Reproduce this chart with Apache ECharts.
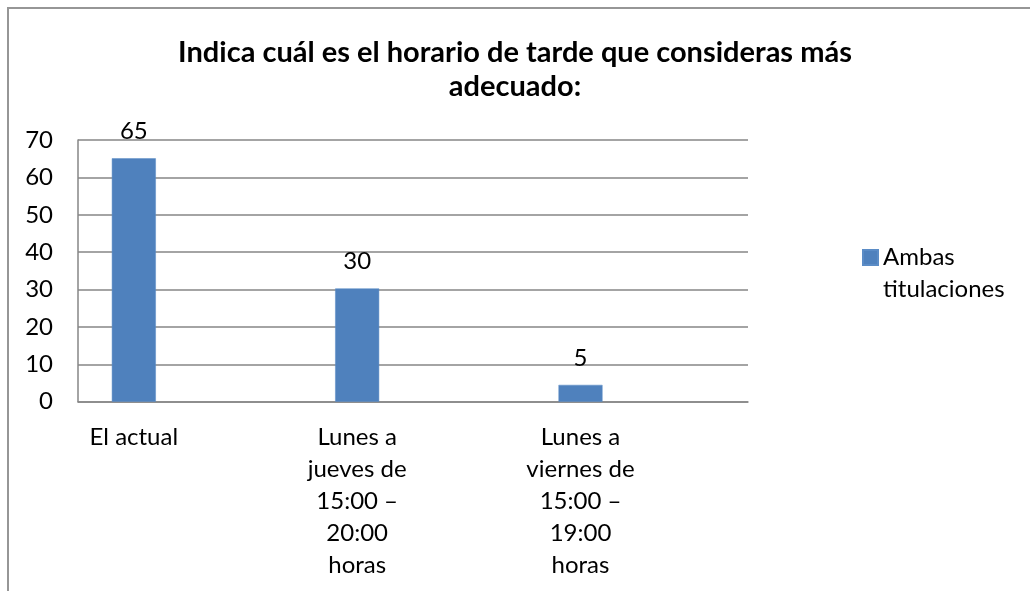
<!DOCTYPE html>
<html>
<head>
<meta charset="utf-8">
<script src="https://cdn.jsdelivr.net/npm/echarts@6/dist/echarts.min.js"></script>
<style>
html,body{margin:0;padding:0;background:#fff;}
#chart{width:1030px;height:591px;}
</style>
</head>
<body>
<div id="chart"></div>
<script>
const titleText = 'Indica cuál es el horario de tarde que consideras más\nadecuado:';
const categories = ['El actual', 'Lunes a\njueves de\n15:00 –\n20:00\nhoras', 'Lunes a\nviernes de\n15:00 –\n19:00\nhoras'];
const seriesName = 'Ambas titulaciones';
const legendLabel = 'Ambas\ntitulaciones';
const values = [65.1, 30.3, 4.5];
const yTicks = [0, 10, 20, 30, 40, 50, 60, 70];

// Each category occupies two half-bands; bar & label sit in the first half.
const axisData = [];
const barData = [];
categories.forEach((c, i) => { axisData.push(c, ''); barData.push(values[i], '-'); });

const FONT = 'Lato, Carlito, Calibri, sans-serif';
const FS = 24;
const chart = echarts.init(document.getElementById('chart'));
chart.setOption({
  animation: false,
  backgroundColor: '#ffffff',
  title: {
    text: titleText,
    left: 'center',
    top: 36,
    padding: [0, 0, 0, 10],
    textStyle: { fontFamily: FONT, fontWeight: 'bold', fontSize: 29, lineHeight: 34, color: '#000' }
  },
  graphic: [{
    type: 'rect',
    shape: { x: 8, y: 8, width: 1100, height: 700 },
    style: { fill: 'none', stroke: '#969696', lineWidth: 2 },
    silent: true
  }],
  legend: {
    orient: 'vertical',
    left: 862,
    top: 209.5,
    padding: 0,
    itemWidth: 15,
    itemHeight: 15,
    icon: 'rect',
    formatter: () => ' \n' + legendLabel,
    textStyle: { fontFamily: FONT, fontSize: FS, lineHeight: 32, color: '#000' },
    data: [seriesName]
  },
  grid: { left: 78, right: 282, top: 140, bottom: 189.3, containLabel: false },
  xAxis: {
    type: 'category',
    data: axisData,
    axisLine: { show: true, lineStyle: { color: '#868686', width: 1.5 } },
    axisTick: { show: false },
    axisLabel: { interval: 0, margin: 20, fontFamily: FONT, fontSize: FS, lineHeight: 31.8, color: '#000', align: 'center' },
    splitLine: { show: false }
  },
  yAxis: {
    type: 'value',
    min: yTicks[0],
    max: yTicks[yTicks.length - 1],
    interval: yTicks[1] - yTicks[0],
    axisLine: { show: true, lineStyle: { color: '#868686', width: 1.5 } },
    axisTick: { show: false },
    axisLabel: { margin: 25, fontFamily: FONT, fontSize: FS, color: '#000' },
    splitLine: { show: true, lineStyle: { color: '#868686', width: 1.5 } }
  },
  series: [{
    name: seriesName,
    type: 'bar',
    data: barData,
    barWidth: 44,
    itemStyle: { color: '#4f81bd', borderColor: '#5b8cc6', borderWidth: 0.5 },
    label: {
      show: true,
      position: 'top',
      distance: 12,
      fontFamily: FONT,
      fontSize: FS,
      lineHeight: 30,
      color: '#000',
      formatter: p => String(Math.round(p.value))
    }
  }]
});
</script>
</body>
</html>
